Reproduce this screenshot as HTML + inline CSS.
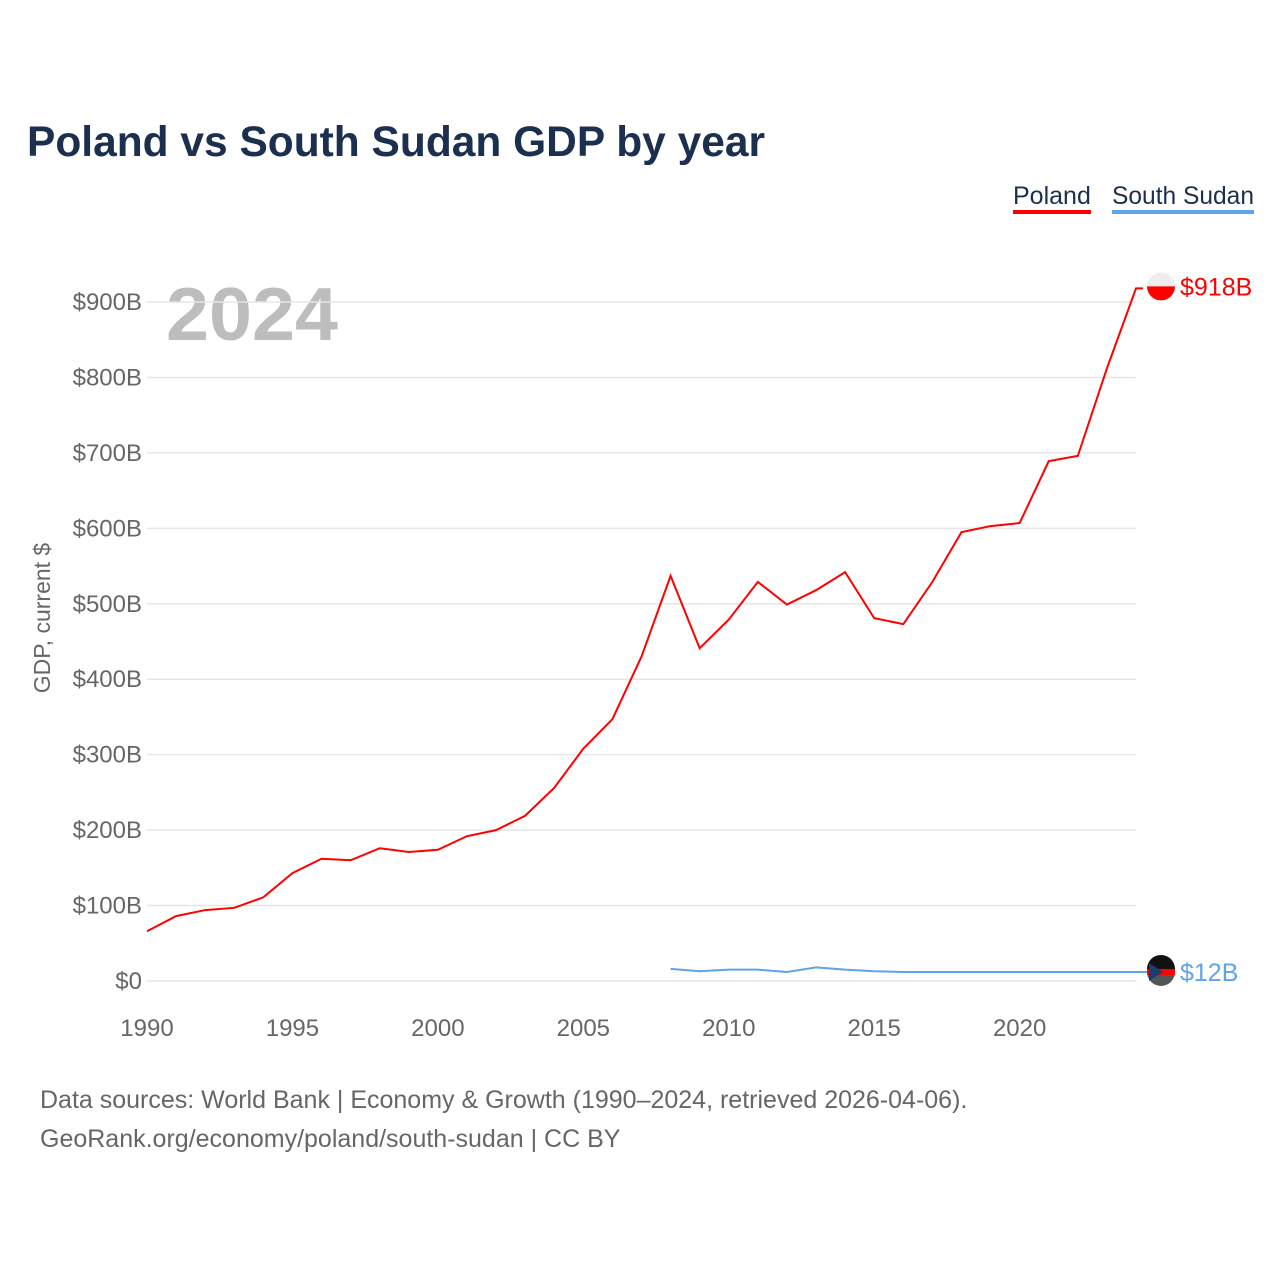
<!DOCTYPE html>
<html><head><meta charset="utf-8"><style>
body{margin:0;background:#fff;}
svg{display:block;font-family:"Liberation Sans",sans-serif;}
</style></head><body>
<svg id="c" width="1280" height="1280" viewBox="0 0 1280 1280">
<text x="27" y="156" font-size="43" font-weight="bold" fill="#1b2f4e" textLength="738" lengthAdjust="spacingAndGlyphs">Poland vs South Sudan GDP by year</text>
<g><text x="1013" y="204" font-size="25" fill="#1b2f4e">Poland</text><rect x="1013" y="210" width="78" height="4" fill="#ff0000"/></g>
<g><text x="1112" y="204" font-size="25" fill="#1b2f4e" textLength="142" lengthAdjust="spacingAndGlyphs">South Sudan</text><rect x="1112" y="210" width="142" height="4" fill="#5fa4e8"/></g>
<text x="166" y="340" font-size="75" font-weight="bold" fill="#bdbdbd" textLength="172" lengthAdjust="spacingAndGlyphs">2024</text>
<text transform="translate(50,618) rotate(-90)" text-anchor="middle" font-size="23" fill="#666">GDP, current $</text>
<g id="grid"></g><g id="yt"></g><g id="xt"></g><g id="series"></g>
<text x="40" y="1108" font-size="25" fill="#666">Data sources: World Bank | Economy &amp; Growth (1990–2024, retrieved 2026-04-06).</text>
<text x="40" y="1147" font-size="25" fill="#666">GeoRank.org/economy/poland/south-sudan | CC BY</text>
</svg>
<script>
const years=[1990,1991,1992,1993,1994,1995,1996,1997,1998,1999,2000,2001,2002,2003,2004,2005,2006,2007,2008,2009,2010,2011,2012,2013,2014,2015,2016,2017,2018,2019,2020,2021,2022,2023,2024];
const poland=[66,86,94,97,111,143,162,160,176,171,174,192,200,219,256,308,347,430,537,441,479,529,499,518,542,481,473,529,595,603,607,689,696,812,918];
const ssYears=[2008,2009,2010,2011,2012,2013,2014,2015,2016,2017,2018,2019,2020,2021,2022,2023,2024];
const southSudan=[16,13,15,15,12,18,15,13,12,12,12,12,12,12,12,12,12];
const yTicks=[0,100,200,300,400,500,600,700,800,900];
const yTickLabels=["$0","$100B","$200B","$300B","$400B","$500B","$600B","$700B","$800B","$900B"];
const xTicks=[1990,1995,2000,2005,2010,2015,2020];
const NS="http://www.w3.org/2000/svg";
const X=v=>147+(v-1990)*(1136-147)/34;
const Y=v=>981-v*(981-302)/900;
function mk(tag,attrs,parent){const e=document.createElementNS(NS,tag);for(const k in attrs)e.setAttribute(k,attrs[k]);parent.appendChild(e);return e;}
const grid=document.getElementById('grid'),yt=document.getElementById('yt'),xt=document.getElementById('xt'),ser=document.getElementById('series');
yTicks.forEach((t,i)=>{
 const l=mk('line',{x1:147,x2:1136,y1:Y(t),y2:Y(t),stroke:'#e6e6e6','stroke-width':1.5},grid);
 
 
 const tx=mk('text',{x:142,y:Y(t)+8,'text-anchor':'end','font-size':24,fill:'#666'},yt);
 tx.textContent=yTickLabels[i];
 
 
});
xTicks.forEach(t=>{
 const tx=mk('text',{x:X(t),y:1036,'text-anchor':'middle','font-size':24,fill:'#666'},xt);
 tx.textContent=t;
 
 
});
const pp=years.map((y,i)=>X(y)+','+Y(poland[i])).join(' ')+' '+(X(2024)+7)+','+Y(poland[poland.length-1]);
const pl=mk('polyline',{points:pp,fill:'none',stroke:'#ff0000','stroke-width':2},ser);


const sp=ssYears.map((y,i)=>X(y)+','+Y(southSudan[i])).join(' ')+' 1148,'+Y(southSudan[southSudan.length-1]);
const sl=mk('polyline',{points:sp,fill:'none',stroke:'#5fa4e8','stroke-width':2},ser);


const py=Y(poland[poland.length-1])-2;
const pg=mk('g',{},ser);


mk('circle',{cx:1161,cy:py,r:14,fill:'#eeeeee'},pg);
mk('path',{d:`M1147,${py} A14,14 0 0,0 1175,${py} Z`,fill:'#ff0000'},pg);
const pt=mk('text',{x:1180,y:py+9,'font-size':25,fill:'#ff0000'},ser);
pt.textContent='$'+poland[poland.length-1]+'B';


const sy=Y(southSudan[southSudan.length-1]);
const sg=mk('g',{},ser);


mk('circle',{cx:1161,cy:sy,r:14,fill:'#555'},sg);
mk('path',{d:`M1147,${sy-3} A14,14 0 0,1 1175,${sy-3} Z`,fill:'#111'},sg);
mk('rect',{x:1147,y:sy-3,width:28,height:6,fill:'#ff0000'},sg);
mk('path',{d:`M1149,${sy-9} L1163,${sy} L1149,${sy+9} Z`,fill:'#1d3c6e'},sg);
const st=mk('text',{x:1180,y:sy+9,'font-size':25,fill:'#5fa4e8'},ser);
st.textContent='$'+southSudan[southSudan.length-1]+'B';


</script>
</body></html>
